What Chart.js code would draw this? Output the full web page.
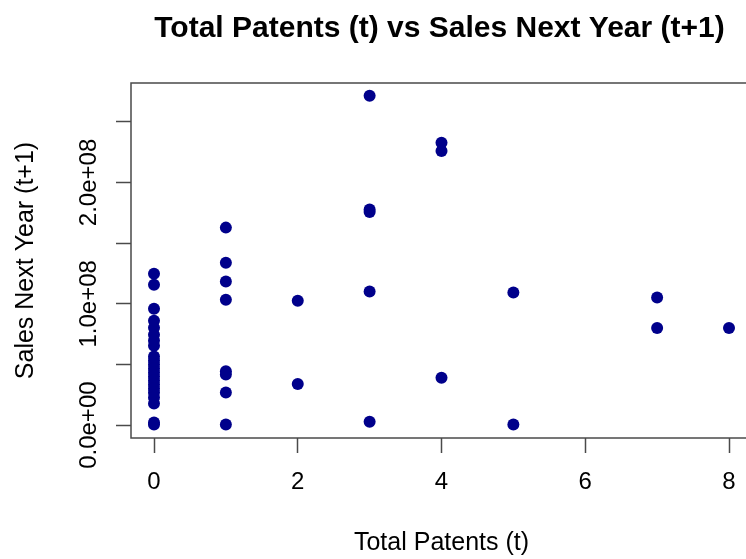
<!DOCTYPE html>
<html>
<head>
<meta charset="utf-8">
<script src="https://cdn.jsdelivr.net/npm/chart.js@4/dist/chart.umd.min.js"></script>
<style>
  body { margin: 0; background: #fff; }
  #wrap { width: 746px; height: 559px; overflow: hidden; }
</style>
</head>
<body>
<div id="wrap"><canvas id="scatter" width="760" height="559"></canvas></div>
<script>
// values (sales in millions)
const patents = [
  0, 0, 0, 0, 0, 0, 0, 0, 0, 0, 0, 0, 0, 0, 0, 0, 0, 0, 0, 0, 0, 0,
  1, 1, 1, 1, 1, 1, 1, 1,
  2, 2,
  3, 3, 3, 3, 3,
  4, 4, 4,
  5, 5,
  7, 7,
  8
];
const salesNextYear = [
  124.8, 115.7, 96.0, 86.1, 80.3, 74.6, 69.7, 65.5, 56.5, 53.2, 49.9,
  46.6, 43.3, 40.1, 36.8, 33.5, 30.2, 26.9, 22.8, 17.8, 2.2, 0.6,
  162.8, 133.8, 118.4, 103.4, 44.4, 41.7, 26.9, 0.6,
  102.6, 34.0,
  271.4, 177.8, 175.7, 110.2, 2.8,
  232.7, 225.9, 39.0,
  109.4, 0.6,
  105.3, 80.1,
  80.1
];
const xTicks = [0, 2, 4, 6, 8];
const yTicks = [0, 5e7, 1e8, 1.5e8, 2e8, 2.5e8];
// R drops the labels that would overlap, only these stay
const yLabelled = [0, 1e8, 2e8];

const TITLE = "Total Patents (t) vs Sales Next Year (t+1)";
const FONT = '"Liberation Sans", Arial, sans-serif';
const AXIS_COLOR = "#4a4a4a";

Chart.defaults.font.family = FONT;
Chart.defaults.color = "#000";

function sci(v) {
  const [m, e] = v.toExponential(1).split("e");
  const sign = e[0] === "-" ? "-" : "+";
  return m + "e" + sign + String(Math.abs(+e)).padStart(2, "0");
}

const points = patents.map((p, i) => ({ x: p, y: salesNextYear[i] * 1e6 }));

// R style box round the plot region, title centred on that region
const plotFrame = {
  id: "plotFrame",
  afterDraw(chart) {
    const { ctx, chartArea: a } = chart;
    ctx.save();
    ctx.strokeStyle = AXIS_COLOR;
    ctx.lineWidth = 1.5;
    ctx.strokeRect(a.left, a.top, a.right - a.left, a.bottom - a.top);
    ctx.fillStyle = "#000";
    ctx.font = "bold 30px " + FONT;
    ctx.textAlign = "center";
    ctx.textBaseline = "middle";
    ctx.fillText(TITLE, (a.left + a.right) / 2 - 2, 29);
    ctx.restore();
  }
};

new Chart(document.getElementById("scatter"), {
  type: "scatter",
  data: {
    datasets: [{
      data: points,
      backgroundColor: "#00008B",
      borderWidth: 0,
      pointRadius: 6,
      pointHoverRadius: 6
    }]
  },
  options: {
    responsive: false,
    animation: false,
    layout: { padding: { top: 83, right: 8, left: 0, bottom: 0 } },
    plugins: {
      legend: { display: false },
      tooltip: { enabled: false }
    },
    scales: {
      x: {
        type: "linear",
        min: -0.32,
        max: 8.32,
        afterBuildTicks: (s) => { s.ticks = xTicks.map((v) => ({ value: v })); },
        afterFit: (s) => { s.height = 121; },
        border: { display: false },
        grid: { drawOnChartArea: false, tickLength: 15, color: AXIS_COLOR, tickWidth: 1.5 },
        ticks: {
          autoSkip: false,
          padding: 15,
          font: { size: 24 },
          callback: (v) => String(v)
        },
        title: { display: true, text: "Total Patents (t)", font: { size: 25 }, padding: { top: 0, bottom: 1 } }
      },
      y: {
        min: -1.06e7,
        max: 2.82e8,
        afterBuildTicks: (s) => { s.ticks = yTicks.map((v) => ({ value: v })); },
        afterFit: (s) => { s.width = 131; },
        border: { display: false },
        grid: { drawOnChartArea: false, tickLength: 15, color: AXIS_COLOR, tickWidth: 1.5 },
        ticks: {
          autoSkip: false,
          minRotation: 90,
          maxRotation: 90,
          crossAlign: "center",
          padding: -17,
          font: { size: 24 },
          callback: (v) => yLabelled.includes(v) ? sci(v) : ""
        },
        title: { display: true, text: "Sales Next Year (t+1)", font: { size: 25 }, padding: { top: 11, bottom: 0 } }
      }
    }
  },
  plugins: [plotFrame]
});
</script>
</body>
</html>
